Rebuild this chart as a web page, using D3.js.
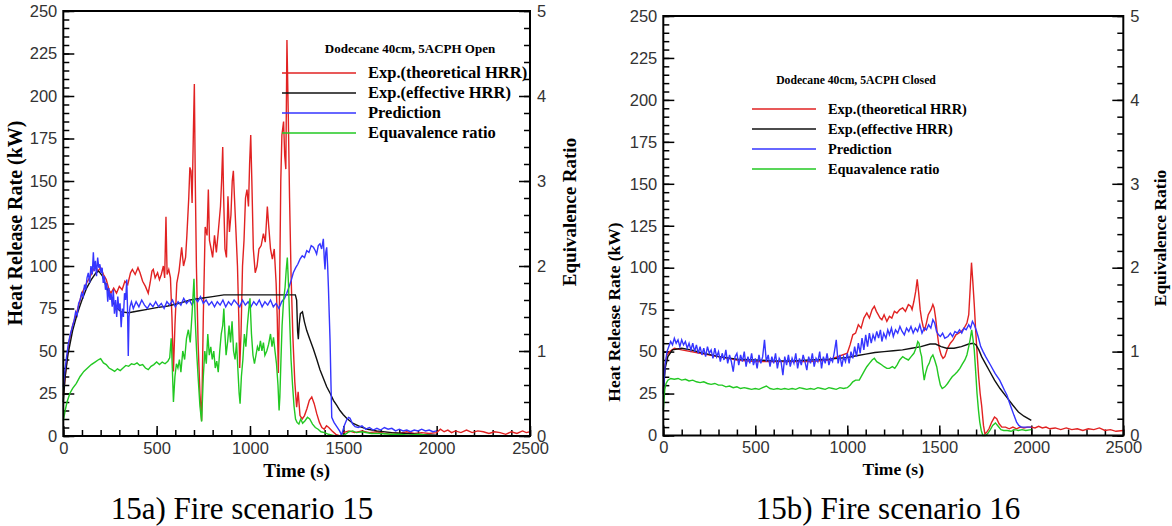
<!DOCTYPE html>
<html>
<head>
<meta charset="utf-8">
<script src="https://cdn.jsdelivr.net/npm/d3@7"></script>
<style>
body { margin: 0; background: #fff; }
svg { display: block; }
.tick text { font-family: "Liberation Sans", Arial, sans-serif; fill: #333; }
.tick line { stroke: #000; stroke-width: 1.5; }
.domain { display: none; }
</style>
</head>
<body>
<svg width="1172" height="526"></svg>
<script>
// time ticks and labels
var timeTicks = [0, 500, 1000, 1500, 2000, 2500]
var hrrTicks = [0, 25, 50, 75, 100, 125, 150, 175, 200, 225, 250]
var erTicks = [0, 1, 2, 3, 4, 5]
var seriesNames = ["Exp.(theoretical HRR)", "Exp.(effective HRR)", "Prediction", "Equavalence ratio"]
var seriesColors = ["#e12222", "#111111", "#3535ff", "#22c822"]

// scenario 15 (open) : [time s, HRR kW] / [time s, equivalence ratio]
var openTheo = [[0,24],[15,40],[30,55],[50,65],[70,72],[100,84],[125,90],[150,95],[170,100],[185,97],[200,99],[215,95],[230,92],[245,86],[255,84],[270,87],[285,84],[300,88],[315,86],[330,91],[345,89],[360,96],[370,98],[385,95],[400,99],[411,96],[425,91],[440,88],[455,84],[465,90],[475,97],[482,98],[492,93],[505,96],[515,92],[525,95],[536,100],[543,93],[550,129],[556,95],[565,98],[574,93],[582,70],[590,38],[598,65],[608,90],[620,97],[634,111],[644,100],[655,105],[662,118],[672,140],[678,158],[684,156],[690,137],[697,180],[702,207],[707,150],[713,100],[722,55],[732,25],[741,9],[750,70],[760,123],[770,118],[777,145],[783,115],[792,110],[800,105],[810,118],[820,108],[830,120],[842,135],[848,150],[854,170],[859,140],[866,110],[874,105],[882,141],[890,120],[898,130],[905,150],[911,156],[917,140],[925,120],[933,100],[940,70],[945,40],[952,60],[960,100],[968,115],[976,140],[984,145],[992,135],[998,160],[1004,177],[1010,150],[1018,110],[1028,96],[1038,100],[1048,110],[1060,112],[1072,119],[1082,114],[1093,135],[1100,124],[1110,110],[1120,104],[1130,110],[1140,90],[1146,70],[1152,37],[1158,80],[1165,150],[1171,177],[1180,185],[1186,165],[1192,157],[1198,233],[1205,190],[1212,140],[1220,95],[1230,58],[1240,32],[1250,17],[1258,26],[1268,12],[1280,10],[1292,12],[1305,16],[1318,21],[1331,23],[1344,19],[1358,13],[1372,8],[1385,5],[1398,4],[1410,6],[1422,5],[1440,3],[1460,1],[1482,0],[1500,2],[1530,3],[1560,2],[1600,3],[1640,2],[1680,2.5],[1720,1.5],[1760,2],[1800,1.5],[1840,2.5],[1880,1.5],[1920,2],[1960,1.5],[2000,2],[2020,4],[2040,2.5],[2060,3.5],[2080,2],[2100,3],[2130,2],[2160,3.5],[2190,2],[2220,3],[2250,2.5],[2280,1.5],[2310,2.5],[2340,2],[2370,1],[2400,2.5],[2430,1.5],[2460,3],[2480,2],[2500,2.5]]
var openEff = [[0,20],[10,35],[25,48],[50,62],[75,72],[100,80],[125,87],[150,92],[175,96],[190,97],[210,94],[230,88],[250,82],[280,76],[310,73],[350,72.5],[400,73.5],[450,74.5],[500,75.5],[560,76.5],[620,78],[680,80],[740,81],[800,82],[860,83],[1000,83],[1100,83],[1200,83],[1243,83],[1250,80],[1255,62],[1259,57],[1264,66],[1270,72],[1281,73],[1292,67],[1304,62],[1320,57],[1340,51],[1358,45],[1375,39],[1393,34],[1411,29],[1430,25],[1447,21],[1465,18],[1482,15],[1500,12.5],[1518,10.4],[1550,7.5],[1590,5.5],[1630,4],[1679,3],[1760,2],[1857,1.3],[1930,0.8],[2000,0.4]]
var openPred = [[0,29],[8,38],[18,47],[28,55],[38,60],[48,64],[58,68],[66,73],[74,71],[82,78],[90,80],[98,84],[106,82],[114,89],[120,86],[127,93],[134,96],[141,90],[148,100],[155,95],[161,108],[166,97],[172,103],[178,94],[184,105],[190,99],[196,101],[202,96],[208,99],[214,90],[220,94],[226,86],[232,90],[238,79],[244,87],[250,80],[256,84],[262,76],[268,86],[274,72],[280,80],[286,70],[292,82],[298,74],[304,78],[310,64],[316,75],[322,70],[328,84],[334,80],[340,92],[344,75],[348,47],[352,70],[357,76],[365,79],[375,75],[390,79],[405,76],[420,80],[435,77],[450,75],[465,78],[480,76],[495,79],[510,76],[525,78],[540,75],[555,79],[570,77],[585,80],[600,76],[615,79],[630,77],[645,81],[660,78],[675,80],[690,77],[705,81],[720,79],[735,82],[750,78],[765,80],[780,77],[795,79],[810,76],[825,79],[840,77],[855,80],[870,76],[885,79],[900,77],[915,80],[930,78],[945,76],[960,80],[975,77],[990,79],[1005,76],[1020,79],[1035,77],[1050,80],[1065,76],[1080,79],[1095,77],[1110,80],[1125,76],[1140,78],[1155,75],[1170,79],[1185,81],[1197,84],[1210,88],[1222,92],[1232,96],[1245,99],[1256,101],[1268,104],[1280,106],[1292,105],[1304,109],[1316,108],[1328,112],[1340,111],[1350,109],[1357,107],[1366,112],[1375,113],[1384,110],[1393,116],[1398,104],[1402,98],[1406,108],[1411,111],[1416,100],[1420,88],[1425,70],[1429,56],[1434,30],[1438,11],[1450,8],[1465,5.5],[1480,3],[1491,0.6],[1505,6],[1518,9.5],[1528,11],[1536,10.5],[1550,7],[1563,5.5],[1580,5],[1600,6],[1620,4],[1640,5],[1660,3.5],[1680,4.5],[1700,3.5],[1720,5],[1740,4],[1760,4.5],[1780,3],[1800,4],[1820,3],[1840,3.5],[1860,2.5],[1880,3.5],[1900,3],[1920,4],[1940,3],[1960,3.5],[1980,2.5],[2000,3]]
var openER = [[0,0.18],[10,0.3],[20,0.4],[35,0.5],[50,0.56],[70,0.62],[90,0.7],[110,0.76],[130,0.8],[150,0.84],[170,0.87],[190,0.9],[200,0.91],[215,0.86],[230,0.84],[245,0.8],[260,0.78],[275,0.76],[290,0.79],[305,0.77],[320,0.8],[335,0.83],[350,0.82],[365,0.85],[380,0.84],[395,0.86],[410,0.83],[425,0.84],[440,0.8],[455,0.78],[470,0.82],[485,0.84],[500,0.87],[515,0.84],[530,0.87],[545,0.85],[560,0.88],[570,0.92],[578,1.15],[584,0.8],[590,0.4],[598,0.7],[606,0.85],[614,0.8],[622,0.9],[630,0.75],[640,1.0],[650,0.9],[660,1.15],[670,1.25],[680,1.1],[690,1.45],[700,1.85],[706,1.4],[714,1.0],[722,0.7],[732,0.35],[741,0.17],[750,0.7],[758,1.0],[766,0.85],[774,1.2],[782,0.95],[790,1.05],[798,0.9],[806,1.0],[814,0.8],[822,0.88],[830,0.75],[838,1.0],[846,1.2],[854,1.3],[860,1.5],[866,1.2],[872,0.95],[880,1.1],[888,1.3],[896,1.1],[904,1.35],[912,1.0],[920,0.9],[928,1.1],[936,0.75],[942,0.5],[947,0.38],[954,0.7],[962,0.9],[970,1.2],[978,1.05],[986,1.3],[994,1.5],[1000,1.62],[1008,1.2],[1016,0.95],[1024,0.85],[1032,0.95],[1040,1.05],[1048,1.0],[1056,1.12],[1064,1.0],[1072,1.1],[1080,0.95],[1090,1.0],[1100,1.08],[1110,1.2],[1118,1.05],[1126,1.16],[1134,1.0],[1142,0.85],[1150,0.6],[1156,0.3],[1160,0.46],[1166,0.9],[1172,1.3],[1180,1.6],[1188,1.75],[1194,1.95],[1200,2.1],[1206,1.8],[1212,1.4],[1220,0.9],[1228,0.6],[1236,0.35],[1244,0.2],[1252,0.16],[1262,0.14],[1272,0.2],[1282,0.15],[1295,0.18],[1308,0.22],[1320,0.2],[1335,0.14],[1350,0.1],[1365,0.08],[1380,0.05],[1400,0.04],[1420,0.02],[1440,0.01],[1460,0],[1490,0],[1510,0.02],[1530,0.05],[1550,0.06],[1570,0.04],[1600,0.05],[1650,0.03],[1700,0.03],[1750,0.02],[1800,0.02],[1850,0.01],[1900,0.02],[1950,0.01],[2000,0]]

// scenario 16 (closed)
var closedTheo = [[0,28],[10,42],[20,48],[35,50],[60,52],[100,51],[200,49],[300,47],[400,45],[500,44],[600,44],[700,44],[800,44],[900,45],[1000,49],[1015,54],[1030,60],[1045,61],[1060,66],[1075,64],[1090,70],[1106,73],[1120,70],[1135,75],[1147,77],[1158,74],[1168,72],[1178,70],[1188,69],[1200,72],[1215,68],[1229,71],[1242,70],[1256,74],[1270,73],[1285,75],[1301,76],[1316,74],[1332,78],[1345,77],[1352,75],[1362,80],[1372,86],[1380,93],[1388,85],[1396,75],[1404,69],[1412,65],[1420,63],[1430,67],[1440,72],[1455,75],[1465,78],[1472,76],[1480,70],[1490,60],[1500,52],[1510,48],[1520,46],[1530,47],[1545,52],[1560,55],[1575,57],[1590,60],[1605,61],[1620,62],[1635,64],[1650,67],[1660,72],[1668,88],[1675,103],[1682,92],[1690,78],[1698,62],[1706,48],[1714,35],[1722,25],[1730,18],[1740,6],[1748,1],[1758,2],[1770,4],[1785,8],[1800,11],[1812,10],[1825,7],[1840,5],[1860,5],[1880,4],[1900,5],[1920,4],[1940,5],[1960,4.5],[1980,5],[2000,5],[2020,4.5],[2040,5.5],[2060,4.5],[2080,5],[2100,4],[2130,4.5],[2160,3.5],[2190,4.5],[2220,3.5],[2250,4],[2280,3],[2310,4],[2340,3.5],[2370,4.5],[2400,3],[2430,3.5],[2460,2.5],[2500,3]]
var closedEff = [[0,25],[10,40],[25,47],[50,51],[100,52],[150,51],[200,49.5],[300,47],[400,45.5],[500,45],[600,44.5],[700,44.5],[800,45],[900,45.5],[1000,46.5],[1050,47.5],[1100,48.5],[1150,49.5],[1200,50],[1250,50.5],[1300,51],[1350,52],[1400,53],[1450,54.5],[1480,54.5],[1510,53],[1540,52],[1580,52],[1620,53],[1660,54.5],[1685,55],[1700,54],[1715,51],[1730,47],[1750,43],[1775,38],[1800,33],[1830,28],[1865,23],[1900,18],[1930,14],[1960,11.5],[2000,9]]
var closedPred = [[0,25],[10,42],[20,50],[30,53],[40,56],[50,54],[60,58],[70,55],[80,57],[90,53],[100,57],[110,54],[120,56],[130,52],[140,55],[150,51],[160,55],[170,50],[180,54],[190,49],[200,53],[210,48],[220,52],[230,47],[240,53],[250,49],[260,51],[270,46],[280,52],[290,47],[300,50],[310,44],[320,49],[330,45],[340,51],[350,43],[360,48],[370,44],[380,38],[390,47],[400,49],[410,42],[420,48],[430,44],[440,50],[450,41],[460,47],[470,43],[480,49],[490,42],[500,46],[510,40],[520,48],[530,43],[540,47],[550,57],[560,44],[570,48],[580,41],[590,47],[600,43],[610,49],[620,40],[630,46],[640,44],[650,36],[660,47],[670,42],[680,48],[690,41],[700,46],[710,43],[720,49],[730,40],[740,46],[750,42],[760,48],[770,44],[780,39],[790,47],[800,43],[810,49],[820,41],[830,46],[840,44],[850,50],[860,40],[870,47],[880,43],[890,49],[900,42],[910,46],[920,44],[930,50],[940,57],[950,43],[960,48],[970,41],[980,47],[990,44],[1000,49],[1010,43],[1020,50],[1030,46],[1040,53],[1050,47],[1060,55],[1070,49],[1080,58],[1090,51],[1100,60],[1110,53],[1120,61],[1130,55],[1140,60],[1150,57],[1160,62],[1170,58],[1180,63],[1188,56],[1198,61],[1210,58],[1220,63],[1229,60],[1240,64],[1250,59],[1262,63],[1274,61],[1286,65],[1298,62],[1310,60],[1322,64],[1334,62],[1346,65],[1358,61],[1370,64],[1382,62],[1394,66],[1406,61],[1418,64],[1430,63],[1442,66],[1454,64],[1465,69],[1475,67],[1485,62],[1496,60],[1506,59],[1518,61],[1530,58],[1547,59],[1560,61],[1572,59],[1585,62],[1598,61],[1610,63],[1622,61],[1634,64],[1646,63],[1660,66],[1670,64],[1680,68],[1690,66],[1700,63],[1711,59],[1725,53],[1738,50],[1752,47],[1778,42],[1803,37],[1828,33],[1841,30],[1854,27],[1868,24],[1880,20],[1893,16],[1906,12],[1920,8],[1932,6],[1945,5],[1975,5],[2000,5]]
var closedER = [[0,0.3],[8,0.55],[15,0.62],[25,0.66],[40,0.68],[60,0.67],[80,0.68],[100,0.66],[120,0.67],[140,0.65],[160,0.66],[180,0.64],[200,0.63],[220,0.64],[240,0.62],[260,0.61],[280,0.62],[300,0.6],[320,0.6],[340,0.58],[360,0.59],[380,0.57],[400,0.58],[420,0.56],[440,0.57],[460,0.56],[480,0.55],[500,0.56],[520,0.55],[540,0.57],[560,0.59],[580,0.56],[600,0.55],[620,0.56],[640,0.55],[660,0.56],[680,0.55],[700,0.56],[720,0.55],[740,0.57],[760,0.56],[780,0.55],[800,0.56],[820,0.55],[840,0.57],[860,0.56],[880,0.55],[900,0.57],[920,0.56],[940,0.55],[960,0.57],[980,0.56],[1000,0.57],[1015,0.6],[1030,0.64],[1045,0.66],[1065,0.66],[1080,0.72],[1095,0.78],[1106,0.82],[1120,0.86],[1135,0.9],[1147,0.92],[1160,0.88],[1175,0.86],[1188,0.84],[1200,0.82],[1215,0.8],[1229,0.8],[1245,0.82],[1258,0.8],[1270,0.84],[1285,0.9],[1301,0.94],[1315,0.92],[1332,0.9],[1347,0.94],[1362,0.98],[1375,1.05],[1383,1.12],[1390,1.1],[1397,1.0],[1404,0.94],[1410,0.8],[1418,0.66],[1425,0.74],[1435,0.82],[1445,0.86],[1455,0.93],[1465,0.96],[1475,0.9],[1486,0.82],[1496,0.7],[1506,0.6],[1516,0.56],[1530,0.58],[1545,0.62],[1557,0.66],[1570,0.7],[1585,0.73],[1598,0.76],[1612,0.8],[1625,0.85],[1639,0.9],[1650,0.96],[1660,1.06],[1668,1.15],[1676,1.26],[1683,1.15],[1690,1.02],[1698,0.75],[1705,0.5],[1713,0.3],[1720,0.16],[1728,0.06],[1737,0],[1750,0],[1762,0.02],[1775,0.06],[1790,0.12],[1805,0.15],[1820,0.11],[1835,0.07],[1850,0.06],[1870,0.06],[1890,0.05],[1910,0.07],[1930,0.06],[1950,0.07],[1970,0.06],[2000,0.07]]

var svg = d3.select("svg")
var intFmt = d3.format("d")

function drawPanel(p) {
    var g = svg.append("g")
    var x = d3.scaleLinear().domain([0, 2500]).range([p.left, p.right]),
        y = d3.scaleLinear().domain([0, 250]).range([p.bottom, p.top]),
        yr = d3.scaleLinear().domain([0, 5]).range([p.bottom, p.top])

    // minor ticks first, majors on top
    g.append("g").attr("transform", "translate(0," + p.bottom + ")")
        .call(d3.axisBottom(x).tickValues(d3.range(0, 2501, 100)).tickSize(-6).tickFormat(""))
    g.append("g").attr("transform", "translate(" + p.left + ",0)")
        .call(d3.axisLeft(y).tickValues(d3.range(0, 251, 5)).tickSize(-6).tickFormat(""))
    g.append("g").attr("transform", "translate(" + p.right + ",0)")
        .call(d3.axisRight(yr).tickValues(d3.range(0, 5.01, 0.2)).tickSize(-6).tickFormat(""))

    g.append("g").attr("transform", "translate(0," + p.bottom + ")")
        .call(d3.axisBottom(x).tickValues(timeTicks).tickSize(-10).tickPadding(6).tickFormat(intFmt))
    g.append("g").attr("transform", "translate(" + p.left + ",0)")
        .call(d3.axisLeft(y).tickValues(hrrTicks).tickSize(-11).tickPadding(6).tickFormat(intFmt))
    g.append("g").attr("transform", "translate(" + p.right + ",0)")
        .call(d3.axisRight(yr).tickValues(erTicks).tickSize(-11).tickPadding(7).tickFormat(intFmt))
    g.selectAll(".tick text").style("font-size", "16.5px")

    var line = d3.line().x(d => x(d[0])).y(d => y(d[1]))
    var erLine = d3.line().x(d => x(d[0])).y(d => yr(d[1]))
    var plots = g.append("g")
    ;[p.theo, p.eff, p.pred].forEach(function (s, i) {
        plots.append("path").datum(s).attr("d", line)
            .attr("fill", "none").attr("stroke", seriesColors[i]).attr("stroke-width", 1.4)
    })
    plots.append("path").datum(p.er).attr("d", erLine)
        .attr("fill", "none").attr("stroke", seriesColors[3]).attr("stroke-width", 1.4)

    g.append("rect").attr("x", p.left).attr("y", p.top)
        .attr("width", p.right - p.left).attr("height", p.bottom - p.top)
        .attr("fill", "none").attr("stroke", "#000").attr("stroke-width", 2)

    // legend
    var lg = g.append("g").style("font-family", "'Liberation Serif', 'Times New Roman', serif")
        .style("font-weight", "bold")
    lg.append("text").attr("x", p.titleX).attr("y", p.titleY).attr("text-anchor", "middle")
        .style("font-size", p.titleSize + "px").text(p.title)
    seriesNames.forEach(function (n, i) {
        var ly = p.legY + i * p.legStep
        lg.append("line").attr("x1", p.legX).attr("x2", p.legX + p.legLen)
            .attr("y1", ly).attr("y2", ly)
            .attr("stroke", seriesColors[i]).attr("stroke-width", 1.6)
        lg.append("text").attr("x", p.legX + p.legLen + 12).attr("y", ly + p.legSize * 0.33)
            .style("font-size", p.legSize + "px").text(n)
    })

    // axis titles
    var at = g.append("g").style("font-family", "'Liberation Serif', 'Times New Roman', serif")
        .style("font-weight", "bold").attr("text-anchor", "middle")
    at.append("text").attr("transform", "translate(" + p.hrrX + "," + p.hrrY + ") rotate(-90)")
        .style("font-size", p.hrrSize + "px").text("Heat Release Rate (kW)")
    at.append("text").attr("transform", "translate(" + p.erX + "," + p.erY + ") rotate(-90)")
        .style("font-size", p.labSize + "px").text("Equivalence Ratio")
    at.append("text").attr("x", (p.left + p.right) / 2).attr("y", p.timeY)
        .style("font-size", p.labSize + "px").text("Time (s)")

    g.append("text").attr("x", p.capX).attr("y", 519).attr("text-anchor", "middle")
        .style("font-family", "'Liberation Serif', 'Times New Roman', serif")
        .style("font-size", "31px").text(p.caption)
}

drawPanel({
    left: 63.3, right: 530, top: 11, bottom: 436,
    theo: openTheo, eff: openEff, pred: openPred, er: openER,
    title: "Dodecane 40cm, 5ACPH Open", titleX: 410, titleY: 53, titleSize: 13,
    legX: 282, legLen: 74, legY: 73, legStep: 20, legSize: 16.5,
    labSize: 19, hrrSize: 20, hrrX: 22, hrrY: 223, erX: 576, erY: 212, timeY: 477,
    capX: 242, caption: "15a) Fire scenario 15"
})

drawPanel({
    left: 663.3, right: 1123.3, top: 16, bottom: 435.5,
    theo: closedTheo, eff: closedEff, pred: closedPred, er: closedER,
    title: "Dodecane 40cm, 5ACPH Closed", titleX: 856, titleY: 84, titleSize: 11.7,
    legX: 752, legLen: 64, legY: 109, legStep: 20, legSize: 14.4,
    labSize: 17.5, hrrSize: 17.5, hrrX: 620, hrrY: 312, erX: 1166, erY: 238, timeY: 475,
    capX: 888, caption: "15b) Fire scenario 16"
})
</script>
</body>
</html>
